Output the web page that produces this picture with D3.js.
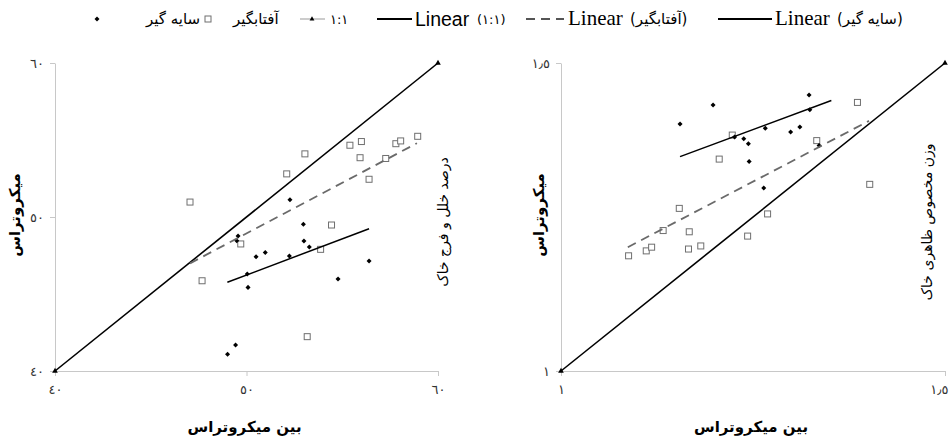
<!DOCTYPE html>
<html><head><meta charset="utf-8">
<script src="https://cdn.jsdelivr.net/npm/d3@7"></script>
<style>body{margin:0;background:#fff} svg{display:block}</style>
</head><body><svg id="c" width="949" height="438"></svg>
<script>
// ---------- data ----------
const leftShadeX = [52.27,52.97,49.56,49.49,53.0,53.28,50.5,50.98,52.24,56.4,50.04,50.08,54.78,49.43,49.01];
const leftShadeY = [51.12,49.53,48.77,48.46,48.44,48.05,47.42,47.7,47.47,47.14,46.3,45.43,45.97,41.69,41.08];
const leftSunX = [47.05,52.1,53.05,55.4,56.0,55.93,57.27,56.4,57.8,58.05,58.94,54.44,49.7,53.87,47.68,53.17];
const leftSunY = [50.97,52.8,54.1,54.66,54.9,53.85,53.8,52.45,54.76,54.94,55.24,49.48,48.25,47.9,45.86,42.23];
const leftShadeTrend = [[49.0,45.76],[56.4,49.24]];
const leftSunTrend = [[47.05,46.99],[58.9,54.79]];
const leftOneToOne = [[40,40],[60,60]];
const leftTicks = [40,50,60];

const rightShadeX = [1.155,1.198,1.323,1.324,1.311,1.299,1.266,1.226,1.238,1.244,1.245,1.336,1.264];
const rightShadeY = [1.401,1.432,1.448,1.424,1.396,1.388,1.394,1.380,1.377,1.369,1.340,1.366,1.297];
const rightSunX = [1.386,1.223,1.333,1.206,1.402,1.154,1.269,1.167,1.133,1.243,1.088,1.111,1.118,1.166,1.182];
const rightSunY = [1.436,1.383,1.374,1.344,1.303,1.264,1.255,1.226,1.228,1.219,1.187,1.195,1.201,1.198,1.203];
const rightShadeTrend = [[1.155,1.348],[1.352,1.439]];
const rightSunTrend = [[1.087,1.201],[1.401,1.406]];
const rightOneToOne = [[1,1],[1.5,1.5]];
const rightTicks = [1,1.5];

const xTitle = "بین میکروتراس";
const yTitle = "میکروتراس";
const leftSideLabel = "درصد خلل و فرج خاک";
const rightSideLabel = "وزن مخصوص ظاهری خاک";
const legendShade = "سایه گیر";
const legendSun = "آفتابگیر";
const legendOne = "١:١";
const legendLinear = "Linear";

// ---------- helpers ----------
const svg = d3.select("#c");
const ar = v => String(v).replace(/\d/g, d => "٠١٢٣٤٥٦٧٨٩"[d]).replace(".", "٫");
const zip = (xs, ys) => xs.map((x, i) => [x, ys[i]]);
const AR_FONT = "'DejaVu Sans', sans-serif";
const SERIF = "'Liberation Serif', 'Times New Roman', serif";

function panel(cfg) {
  const x = d3.scaleLinear().domain(cfg.domain).range([cfg.x0, cfg.x1]);
  const y = d3.scaleLinear().domain(cfg.domain).range([371, 63]);
  const g = svg.append("g");

  const ax = g.append("g").attr("transform", "translate(0,371)")
    .call(d3.axisBottom(x).tickValues(cfg.ticks).tickFormat(ar).tickSize(5).tickSizeOuter(0).tickPadding(9));
  const ay = g.append("g").attr("transform", `translate(${cfg.x0},0)`)
    .call(d3.axisLeft(y).tickValues(cfg.ticks).tickFormat(ar).tickSize(5).tickSizeOuter(0).tickPadding(6));
  [ax, ay].forEach(a => {
    a.attr("font-size", 13).attr("font-family", AR_FONT);
    a.select(".domain").attr("stroke", "#c8c8c8");
    a.selectAll(".tick line").attr("stroke", "#c8c8c8");
    a.selectAll(".tick text").attr("font-family", AR_FONT).attr("font-size", 13).attr("fill", "#333");
  });
  if (cfg.lastTickEnd) {
    ax.selectAll(".tick text").filter(d => d === cfg.domain[1])
      .attr("text-anchor", "end").attr("x", 948 - cfg.x1);
  }

  const line = d3.line().x(d => x(d[0])).y(d => y(d[1]));
  // 1:1
  g.append("path").attr("d", line(cfg.one)).attr("stroke", "#000").attr("stroke-width", 1.6).attr("fill", "none");
  g.selectAll(".tri").data(cfg.one).join("path")
    .attr("transform", d => `translate(${x(d[0])},${y(d[1])})`)
    .attr("d", d3.symbol(d3.symbolTriangle, 14)).attr("fill", "#000");

  // squares
  g.selectAll(".sq").data(zip(cfg.sunX, cfg.sunY)).join("rect")
    .attr("x", d => x(d[0]) - 3).attr("y", d => y(d[1]) - 3)
    .attr("width", 6).attr("height", 6)
    .attr("fill", "#fff").attr("stroke", "#6f6f6f").attr("stroke-width", 1);
  // diamonds
  g.selectAll(".dm").data(zip(cfg.shadeX, cfg.shadeY)).join("path")
    .attr("transform", d => `translate(${x(d[0])},${y(d[1])})`)
    .attr("d", d3.symbol(d3.symbolDiamond2, 16)).attr("fill", "#000");

  // trendlines
  g.append("path").attr("d", line(cfg.sunTrend)).attr("stroke", "#6a6a6a").attr("stroke-width", 1.8)
    .attr("stroke-dasharray", "9,6").attr("fill", "none");
  g.append("path").attr("d", line(cfg.shadeTrend)).attr("stroke", "#000").attr("stroke-width", 1.5).attr("fill", "none");

  // titles
  g.append("text").attr("x", (cfg.x0 + cfg.x1) / 2 - 2).attr("y", 432).attr("text-anchor", "middle")
    .attr("font-family", AR_FONT).attr("font-weight", "bold").attr("font-size", 15).text(xTitle);
  g.append("text").attr("transform", `translate(${cfg.yTitleX},215) rotate(-90)`).attr("text-anchor", "middle")
    .attr("font-family", AR_FONT).attr("font-weight", "bold").attr("font-size", 15).text(yTitle);
  g.append("text").attr("transform", `translate(${cfg.sideX},222) rotate(-90)`).attr("text-anchor", "middle")
    .attr("font-family", AR_FONT).attr("font-size", 14).text(cfg.side);
}

panel({domain:[40,60], x0:55, x1:438, ticks:leftTicks, one:leftOneToOne,
  sunX:leftSunX, sunY:leftSunY, shadeX:leftShadeX, shadeY:leftShadeY,
  sunTrend:leftSunTrend, shadeTrend:leftShadeTrend, yTitleX:20, sideX:448, side:leftSideLabel});
panel({domain:[1,1.5], x0:561, x1:945, ticks:rightTicks, one:rightOneToOne,
  sunX:rightSunX, sunY:rightSunY, shadeX:rightShadeX, shadeY:rightShadeY,
  sunTrend:rightSunTrend, shadeTrend:rightShadeTrend, yTitleX:544, sideX:932, side:rightSideLabel, lastTickEnd:true});

// ---------- legend ----------
const L = svg.append("g");
const ly = 19;
L.append("path").attr("transform", `translate(97,${ly})`).attr("d", d3.symbol(d3.symbolDiamond2, 16)).attr("fill", "#000");
L.append("text").attr("x", 146).attr("y", ly + 5).attr("font-family", AR_FONT).attr("font-size", 15).text(legendShade);
L.append("rect").attr("x", 205).attr("y", ly - 3).attr("width", 6).attr("height", 6).attr("fill", "#fff").attr("stroke", "#6f6f6f");
L.append("text").attr("x", 233).attr("y", ly + 5).attr("font-family", AR_FONT).attr("font-size", 15).text(legendSun);
L.append("line").attr("x1", 300).attr("x2", 325).attr("y1", ly).attr("y2", ly).attr("stroke", "#999").attr("stroke-width", 1);
L.append("path").attr("transform", `translate(312,${ly})`).attr("d", d3.symbol(d3.symbolTriangle, 10)).attr("fill", "#000");
L.append("text").attr("x", 330).attr("y", ly + 5).attr("font-family", AR_FONT).attr("font-size", 13).text(legendOne);

L.append("line").attr("x1", 377).attr("x2", 412).attr("y1", ly).attr("y2", ly).attr("stroke", "#000").attr("stroke-width", 1.8);
L.append("text").attr("x", 415).attr("y", ly + 7).attr("font-family", "'Liberation Sans', Arial, sans-serif").attr("font-size", 19.5).text(legendLinear);
L.append("text").attr("x", 477).attr("y", ly + 5).attr("font-family", AR_FONT).attr("font-size", 13).text("(" + legendOne + ")");

L.append("line").attr("x1", 526).attr("x2", 564).attr("y1", ly).attr("y2", ly).attr("stroke", "#555").attr("stroke-width", 1.8).attr("stroke-dasharray", "9,6");
L.append("text").attr("x", 568).attr("y", ly + 6).attr("font-family", SERIF).attr("font-size", 21).text(legendLinear);
L.append("text").attr("x", 630).attr("y", ly + 5).attr("font-family", AR_FONT).attr("font-size", 15).text("(" + legendSun + ")");

L.append("line").attr("x1", 718).attr("x2", 772).attr("y1", ly).attr("y2", ly).attr("stroke", "#000").attr("stroke-width", 1.8);
L.append("text").attr("x", 775).attr("y", ly + 6).attr("font-family", SERIF).attr("font-size", 21).text(legendLinear);
L.append("text").attr("x", 837).attr("y", ly + 5).attr("font-family", AR_FONT).attr("font-size", 15).text("(" + legendShade + ")");
</script></body></html>
